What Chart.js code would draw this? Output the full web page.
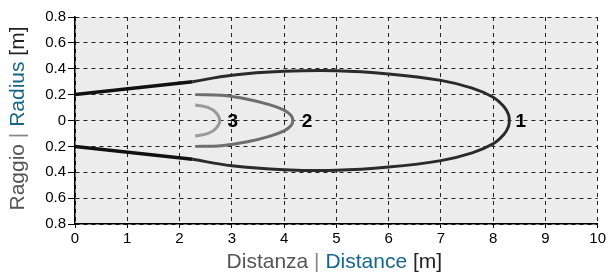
<!DOCTYPE html>
<html>
<head>
<meta charset="utf-8">
<script src="https://cdn.jsdelivr.net/npm/chart.js@4.4.1/dist/chart.umd.min.js"></script>
<style>
  html, body { margin: 0; padding: 0; background: #fff; }
  #wrap { width: 608px; height: 277px; }
</style>
</head>
<body>
<div id="wrap"><canvas id="radiusChart" width="608" height="277"></canvas></div>
<script>
// upper half of each zone (distance, radius); lower half is mirrored
const leadX = [0, 2.25];
const leadY = [0.2, 0.3];
const zone1X = [2.25, 3, 4, 5, 6, 7, 7.6, 8, 8.2, 8.29, 8.31];
const zone1Y = [0.3, 0.35, 0.38, 0.385, 0.36, 0.31, 0.25, 0.18, 0.11, 0.05, 0];
const zone2X = [2.3, 2.8, 3.3, 3.7, 4, 4.13, 4.17];
const zone2Y = [0.2, 0.195, 0.165, 0.125, 0.08, 0.04, 0];
const zone3X = [2.3, 2.55, 2.7, 2.77];
const zone3Y = [0.12, 0.1, 0.06, 0];
const markText = ['1', '2', '3'];
const markX = [8.53, 4.44, 3.02];
const xTicks = [0, 1, 2, 3, 4, 5, 6, 7, 8, 9, 10];
const yTicks = [-0.8, -0.6, -0.4, -0.2, 0, 0.2, 0.4, 0.6, 0.8];

function half(xs, ys, sign) {
  return xs.map((x, i) => ({ x: x, y: sign * ys[i] }));
}
function closed(xs, ys) {
  const top = half(xs, ys, 1);
  const bottom = half(xs, ys, -1).reverse().slice(1);
  return top.concat(bottom);
}

const chartBg = {
  id: 'chartBg',
  beforeDraw(chart) {
    const { ctx, chartArea: a } = chart;
    ctx.save();
    ctx.fillStyle = '#ececec';
    ctx.fillRect(a.left, a.top, a.right - a.left, a.bottom - a.top);
    ctx.restore();
  }
};

function drawParts(ctx, parts, x, y) {
  let total = 0;
  parts.forEach(p => total += ctx.measureText(p[0]).width);
  let cx = x - total / 2;
  parts.forEach(p => {
    ctx.fillStyle = p[1];
    ctx.fillText(p[0], cx, y);
    cx += ctx.measureText(p[0]).width;
  });
}

const extras = {
  id: 'extras',
  afterDraw(chart) {
    const { ctx, chartArea: a, scales } = chart;
    ctx.save();
    // zone numbers
    ctx.font = 'bold 19px "Liberation Sans", Arial, sans-serif';
    ctx.fillStyle = '#000';
    ctx.textAlign = 'center';
    ctx.textBaseline = 'middle';
    markText.forEach((t, i) => {
      ctx.fillText(t, scales.x.getPixelForValue(markX[i]), scales.y.getPixelForValue(0) + 1);
    });
    // axis titles
    ctx.font = '21px "Liberation Sans", Arial, sans-serif';
    ctx.textAlign = 'left';
    ctx.textBaseline = 'middle';
    drawParts(ctx, [['Distanza ', '#555'], ['| ', '#888'], ['Distance', '#16668a'], [' [m]', '#222']],
      (a.left + a.right) / 2 - 2, 262);
    ctx.translate(18, (a.top + a.bottom) / 2 - 2);
    ctx.rotate(-Math.PI / 2);
    drawParts(ctx, [['Raggio ', '#555'], ['| ', '#888'], ['Radius', '#16668a'], [' [m]', '#222']], 0, 0);
    ctx.restore();
  }
};

const lineStyle = (color, width) => ({
  showLine: true,
  borderColor: color,
  borderWidth: width,
  pointRadius: 0,
  fill: false
});

new Chart(document.getElementById('radiusChart'), {
  type: 'scatter',
  data: {
    datasets: [
      Object.assign({ data: half(leadX, leadY, 1), tension: 0 }, lineStyle('#111', 3.5)),
      Object.assign({ data: half(leadX, leadY, -1), tension: 0 }, lineStyle('#111', 3.5)),
      Object.assign({ data: closed(zone1X, zone1Y), tension: 0.4 }, lineStyle('#2b2b2b', 3)),
      Object.assign({ data: closed(zone2X, zone2Y), tension: 0.4 }, lineStyle('#6e6e6e', 3)),
      Object.assign({ data: closed(zone3X, zone3Y), tension: 0.4 }, lineStyle('#9a9a9a', 3))
    ]
  },
  options: {
    responsive: false,
    animation: false,
    layout: { padding: { top: 17, right: 10, left: 0, bottom: 0 } },
    plugins: {
      legend: { display: false },
      tooltip: { enabled: false }
    },
    scales: {
      x: {
        type: 'linear',
        min: 0,
        max: 10,
        afterBuildTicks: s => { s.ticks = xTicks.map(v => ({ value: v })); },
        afterFit: s => { s.height = 53; },
        border: { display: true, color: '#000', width: 1.5, dash: [4, 4] },
        grid: {
          color: '#222',
          lineWidth: 1,
          tickLength: 4,
          tickColor: '#000',
          tickBorderDash: []
        },
        ticks: {
          color: '#000',
          padding: 2,
          maxRotation: 0,
          font: { family: '"Liberation Sans", Arial, sans-serif', size: 15 }
        }
      },
      y: {
        type: 'linear',
        min: -0.8,
        max: 0.8,
        afterBuildTicks: s => { s.ticks = yTicks.map(v => ({ value: v })); },
        afterFit: s => { s.width = 75; },
        border: { display: true, color: '#000', width: 1.5, dash: [4, 4] },
        grid: {
          color: '#222',
          lineWidth: 1,
          tickLength: 7,
          tickColor: '#000',
          tickBorderDash: []
        },
        ticks: {
          color: '#000',
          padding: 2,
          font: { family: '"Liberation Sans", Arial, sans-serif', size: 15 },
          callback: v => {
            const a = Math.abs(v);
            return a < 1e-9 ? '0' : a.toFixed(1);
          }
        }
      }
    }
  },
  plugins: [chartBg, extras]
});
</script>
</body>
</html>
